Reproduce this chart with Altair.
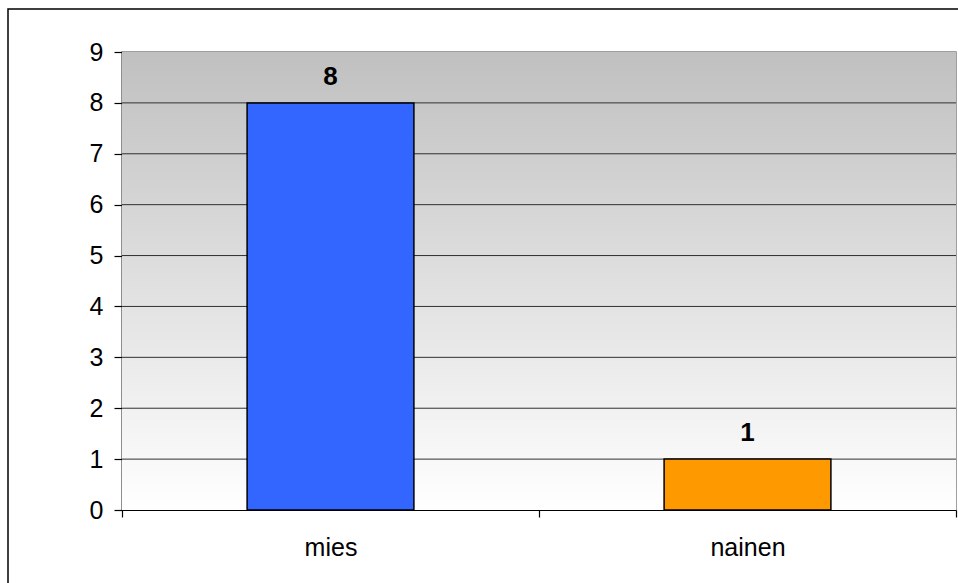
import altair as alt
import pandas as pd

categories = ["mies", "nainen"]
counts = [8, 1]
bar_colors = ["#3366FF", "#FF9900"]
y_ticks = [0, 1, 2, 3, 4, 5, 6, 7, 8, 9]
grid_values = [1, 2, 3, 4, 5, 6, 7, 8]

df = pd.DataFrame({"cat": categories, "n": counts})
grid_df = pd.DataFrame({"v": grid_values})

W, H = 834, 458
FONT = "Liberation Sans"

yscale = alt.Scale(domain=[0, 9], nice=False, zero=True)
xscale = alt.Scale(domain=categories, paddingInner=0, paddingOuter=0)

x_enc = alt.X(
    "cat:N", sort=categories, scale=xscale,
    axis=alt.Axis(title=None, labelAngle=0, tickBand="extent", tickSize=7,
                  labelFontSize=25, labelPadding=38, labelBaseline="alphabetic",
                  domainColor="#000000", tickColor="#000000", labelColor="#000000",
                  domainWidth=1.2, tickWidth=1.2, labelFont=FONT),
)
y_enc = alt.Y(
    "n:Q", scale=yscale,
    axis=alt.Axis(title=None, values=y_ticks, grid=False, tickSize=8,
                  labelFontSize=25, labelPadding=11, domainColor="#000000",
                  tickColor="#000000", labelColor="#000000", domainWidth=1.2,
                  tickWidth=1.2, labelFont=FONT, format="d"),
)

border = alt.Chart(alt.Data(values=[{}])).mark_rect(
    fillOpacity=0, stroke="#000000", strokeWidth=1.5
).encode(x=alt.value(-114), x2=alt.value(950), y=alt.value(-43), y2=alt.value(620))

background = alt.Chart(alt.Data(values=[{}])).mark_rect(
    fill=alt.Gradient(
        gradient="linear",
        stops=[alt.GradientStop(color="#c0c0c0", offset=0),
               alt.GradientStop(color="#ffffff", offset=1)],
        x1=0, x2=0, y1=0, y2=1,
    )
).encode(x=alt.value(0), x2=alt.value(W), y=alt.value(0), y2=alt.value(H))

grid = alt.Chart(grid_df).mark_rule(color="#303030", strokeWidth=1).encode(
    y=alt.Y("v:Q", scale=yscale)
)

bars = alt.Chart(df).mark_bar(
    width=alt.RelativeBandSize(0.4), stroke="#000000", strokeWidth=1.5
).encode(
    x=x_enc, y=y_enc,
    color=alt.Color("cat:N", scale=alt.Scale(domain=categories, range=bar_colors), legend=None),
)

labels = alt.Chart(df).mark_text(
    font=FONT, fontSize=26, fontWeight="bold", baseline="alphabetic", dy=-18, color="#000000"
).encode(
    x=alt.X("cat:N", sort=categories, scale=xscale),
    y=alt.Y("n:Q", scale=yscale),
    text=alt.Text("n:Q"),
)

chart = alt.layer(border, background, grid, bars, labels).properties(
    width=W, height=H,
    autosize=alt.AutoSizeParams(type="none"),
    padding={"left": 122, "top": 52, "right": 2, "bottom": 73},
    background="#ffffff",
).configure_view(stroke="#808080", strokeWidth=1.5)

chart.save("out.html", embed_options={"renderer": "svg", "actions": False})
